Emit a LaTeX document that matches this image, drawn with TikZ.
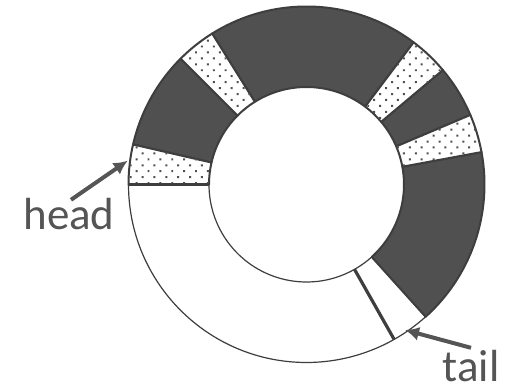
\documentclass[tikz,border=0pt]{standalone}
\usepackage{fontspec}
\setmainfont{Carlito}
\usepackage{tikz}
\usetikzlibrary{arrows.meta,patterns.meta,calc}
\definecolor{fullcolor}{RGB}{80,80,80}
\definecolor{linecolor}{RGB}{62,62,62}
\definecolor{labelcolor}{RGB}{85,85,85}

\begin{document}
\begin{tikzpicture}[
    x=0.5pt, y=0.5pt,
    seg/.style={draw=linecolor, line width=1pt, line join=round},
    fullseg/.style={seg, fill=fullcolor},
    freeseg/.style={seg, fill=white, line width=0.6pt},
    dotseg/.style={seg, fill=white, postaction={pattern={Dots[distance=4.2pt, radius=0.7pt, angle=45]}, pattern color=fullcolor}},
    label/.style={font=\fontsize{22.5}{27}\selectfont, text=labelcolor, inner sep=0pt},
    pointer/.style={-{Latex[length=7pt, width=7pt]}, draw=labelcolor, line width=2pt}
]
\useasboundingbox (0,0) rectangle (510,391);
\coordinate (c) at (306.5,206.5);

% free slots (white)
\draw[freeseg] ($(c)+(180:178)$) arc[start angle=180, end angle=299.5, radius=178] -- ($(c)+(299.5:97.5)$) arc[start angle=299.5, end angle=180, radius=97.5] -- cycle;
\draw[freeseg] ($(c)+(299.5:178)$) arc[start angle=299.5, end angle=312, radius=178] -- ($(c)+(312:97.5)$) arc[start angle=312, end angle=299.5, radius=97.5] -- cycle;

% used slots (dark)
\draw[fullseg] ($(c)+(135:178)$) arc[start angle=135, end angle=167, radius=178] -- ($(c)+(167:97.5)$) arc[start angle=167, end angle=135, radius=97.5] -- cycle;
\draw[fullseg] ($(c)+(53:178)$) arc[start angle=53, end angle=122, radius=178] -- ($(c)+(122:97.5)$) arc[start angle=122, end angle=53, radius=97.5] -- cycle;
\draw[fullseg] ($(c)+(23:178)$) arc[start angle=23, end angle=40, radius=178] -- ($(c)+(40:97.5)$) arc[start angle=40, end angle=23, radius=97.5] -- cycle;
\draw[fullseg] ($(c)+(-48:178)$) arc[start angle=-48, end angle=10.5, radius=178] -- ($(c)+(10.5:97.5)$) arc[start angle=10.5, end angle=-48, radius=97.5] -- cycle;

% dotted slots
\draw[dotseg] ($(c)+(167:178)$) arc[start angle=167, end angle=180, radius=178] -- ($(c)+(180:97.5)$) arc[start angle=180, end angle=167, radius=97.5] -- cycle;
\draw[dotseg] ($(c)+(122:178)$) arc[start angle=122, end angle=135, radius=178] -- ($(c)+(135:97.5)$) arc[start angle=135, end angle=122, radius=97.5] -- cycle;
\draw[dotseg] ($(c)+(40:178)$) arc[start angle=40, end angle=53, radius=178] -- ($(c)+(53:97.5)$) arc[start angle=53, end angle=40, radius=97.5] -- cycle;
\draw[dotseg] ($(c)+(10.5:178)$) arc[start angle=10.5, end angle=23, radius=178] -- ($(c)+(23:97.5)$) arc[start angle=23, end angle=10.5, radius=97.5] -- cycle;

% head and tail borders
\draw[draw=linecolor, line width=1.6pt] ($(c)+(180:178)$) -- ($(c)+(180:97.5)$);
\draw[draw=linecolor, line width=1.6pt] ($(c)+(299.5:178)$) -- ($(c)+(299.5:97.5)$);

% labels
\node[label] (head) at (69,177) {head};
\node[label] (tail) at (471,25) {tail};
\coordinate (headtip) at (127.7,230.3);
\coordinate (tailtip) at (405,61);
\draw[pointer] ([xshift=1pt,yshift=-1pt]head.north) -- (headtip);
\draw[pointer] ([yshift=1pt]tail.north) -- (tailtip);

\end{tikzpicture}
\end{document}
